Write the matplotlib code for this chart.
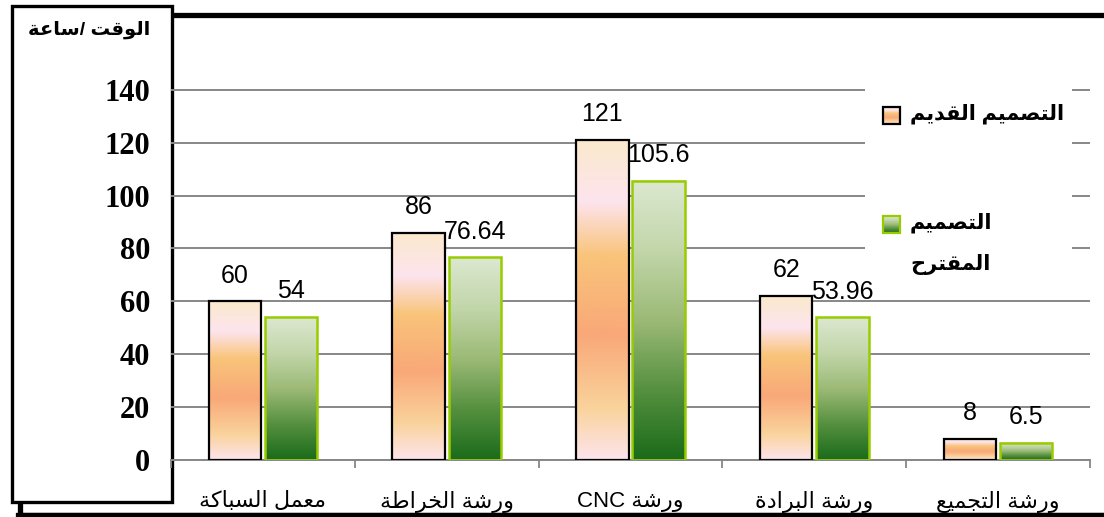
import numpy as np
import matplotlib
matplotlib.use("Agg")
import matplotlib.pyplot as plt
from matplotlib.colors import LinearSegmentedColormap
from matplotlib.patches import Rectangle
from matplotlib.lines import Line2D

# data
categories = ["معمل السباكة", "ورشة الخراطة", "ورشة CNC", "ورشة البرادة", "ورشة التجميع"]
old_design = [60, 86, 121, 62, 8]
new_design = [54, 76.64, 105.6, 53.96, 6.5]
old_labels = ["60", "86", "121", "62", "8"]
new_labels = ["54", "76.64", "105.6", "53.96", "6.5"]
series_names = ["التصميم القديم", "التصميم\nالمقترح"]
y_title = "الوقت /ساعة"
y_ticks = [0, 20, 40, 60, 80, 100, 120, 140]

# minimal Arabic shaping: (isolated, final, initial, medial)
FORMS = {
    'ا': (0xFE8D, 0xFE8E, None, None),
    'ب': (0xFE8F, 0xFE90, 0xFE91, 0xFE92),
    'ة': (0xFE93, 0xFE94, None, None),
    'ت': (0xFE95, 0xFE96, 0xFE97, 0xFE98),
    'ج': (0xFE9D, 0xFE9E, 0xFE9F, 0xFEA0),
    'ح': (0xFEA1, 0xFEA2, 0xFEA3, 0xFEA4),
    'خ': (0xFEA5, 0xFEA6, 0xFEA7, 0xFEA8),
    'د': (0xFEA9, 0xFEAA, None, None),
    'ر': (0xFEAD, 0xFEAE, None, None),
    'س': (0xFEB1, 0xFEB2, 0xFEB3, 0xFEB4),
    'ش': (0xFEB5, 0xFEB6, 0xFEB7, 0xFEB8),
    'ص': (0xFEB9, 0xFEBA, 0xFEBB, 0xFEBC),
    'ط': (0xFEC1, 0xFEC2, 0xFEC3, 0xFEC4),
    'ع': (0xFEC9, 0xFECA, 0xFECB, 0xFECC),
    'ق': (0xFED5, 0xFED6, 0xFED7, 0xFED8),
    'ك': (0xFED9, 0xFEDA, 0xFEDB, 0xFEDC),
    'ل': (0xFEDD, 0xFEDE, 0xFEDF, 0xFEE0),
    'م': (0xFEE1, 0xFEE2, 0xFEE3, 0xFEE4),
    'و': (0xFEED, 0xFEEE, None, None),
    'ي': (0xFEF1, 0xFEF2, 0xFEF3, 0xFEF4),
}


def shape(word):
    out = []
    for i, ch in enumerate(word):
        f = FORMS.get(ch)
        if f is None:
            out.append(ch)
            continue
        prev = FORMS.get(word[i - 1]) if i > 0 else None
        nxt = FORMS.get(word[i + 1]) if i + 1 < len(word) else None
        jp = prev is not None and prev[2] is not None
        jn = nxt is not None and f[2] is not None
        if jp and jn:
            out.append(chr(f[3]))
        elif jp:
            out.append(chr(f[1]))
        elif jn:
            out.append(chr(f[2]))
        else:
            out.append(chr(f[0]))
    return ''.join(out)


def ar(text):
    lines = []
    for line in text.split("\n"):
        toks = []
        for tok in line.split(" ")[::-1]:
            if any(c in FORMS for c in tok):
                toks.append(shape(tok)[::-1])
            else:
                toks.append(tok)
        lines.append(" ".join(toks))
    return "\n".join(lines)


plt.rcParams['font.family'] = ['Liberation Sans', 'DejaVu Sans']

orange_cmap = LinearSegmentedColormap.from_list("old", [
    (0.0, "#fde4ec"), (0.16, "#fad39c"), (0.39, "#f9a878"),
    (0.64, "#f9c47a"), (0.81, "#fde4ee"), (1.0, "#fbe9cc")])
green_cmap = LinearSegmentedColormap.from_list("new", [
    (0.0, "#1a6b1a"), (0.25, "#55903f"), (0.5, "#9cba76"),
    (0.75, "#c2d6aa"), (1.0, "#dce8d0")])
grid_color = "#878787"

W, H = 1104, 517
fig = plt.figure(figsize=(W / 100, H / 100), dpi=100)
ax = fig.add_axes([171 / W, 57 / H, 919 / W, 423 / H])
ax.set_zorder(2)
ax.patch.set_visible(False)

x = np.arange(len(categories))
width = 0.285
off = 0.153
grad = np.linspace(0, 1, 256).reshape(-1, 1)

bars_old = ax.bar(x - off, old_design, width, facecolor="none", edgecolor="black",
                  linewidth=1.6, zorder=3)
bars_new = ax.bar(x + off, new_design, width, facecolor="none", edgecolor="#99cc00",
                  linewidth=1.8, zorder=3)

for bars, cmap in [(bars_old, orange_cmap), (bars_new, green_cmap)]:
    for b in bars:
        x0, y0 = b.get_x(), b.get_y()
        ax.imshow(grad, cmap=cmap, origin="lower", aspect="auto", interpolation="bicubic",
                  extent=[x0, x0 + b.get_width(), y0, y0 + b.get_height()], zorder=2)

for bars, labels in [(bars_old, old_labels), (bars_new, new_labels)]:
    for b, lab in zip(bars, labels):
        ax.annotate(lab, (b.get_x() + b.get_width() / 2, b.get_height()),
                    xytext=(0, 13.5), textcoords="offset points", ha="center",
                    va="baseline", fontsize=18, zorder=4)

ax.set_xlim(-0.5, len(categories) - 0.5)
ax.set_ylim(0, 160)
ax.set_yticks(y_ticks)
ax.set_yticklabels([str(v) for v in y_ticks], fontfamily="Liberation Serif",
                   fontweight="bold", fontsize=22)
ax.tick_params(axis="y", length=0, pad=15)
ax.grid(axis="y", color=grid_color, linewidth=1.4, zorder=1)
ax.set_axisbelow(True)

ax.set_xticks(x)
ax.set_xticklabels([ar(c) for c in categories], fontsize=16)
ax.set_xticks(np.arange(len(categories) + 1) - 0.5, minor=True)
ax.tick_params(axis="x", which="major", length=0, pad=22)
ax.tick_params(axis="x", which="minor", length=6, width=1.3, color=grid_color)
for s in ["top", "left", "right"]:
    ax.spines[s].set_visible(False)
ax.spines["bottom"].set_color(grid_color)
ax.spines["bottom"].set_linewidth(1.4)

# legend block
ax.add_patch(Rectangle((0.755, 0.43), 0.225, 0.47, transform=ax.transAxes,
                       facecolor="white", edgecolor="none", zorder=1.5))
legend_rows = [(orange_cmap, "black", 0.815, [0.818]),
               (green_cmap, "#99cc00", 0.556, [0.560, 0.462])]
for (cmap, ec, sy, ty), name in zip(legend_rows, series_names):
    sx0, sw, sh = 712 / 919, 17 / 919, 17 / 423
    ax.imshow(grad, cmap=cmap, origin="lower", aspect="auto", transform=ax.transAxes,
              extent=[sx0, sx0 + sw, sy - sh / 2, sy + sh / 2], zorder=3)
    ax.add_patch(Rectangle((sx0, sy - sh / 2), sw, sh, transform=ax.transAxes,
                           facecolor="none", edgecolor=ec, linewidth=1.6, zorder=3.5))
    for line, yy in zip(name.split("\n"), ty):
        ax.text(739 / 919, yy, ar(line), transform=ax.transAxes, ha="left", va="center",
                fontsize=15, fontweight="bold", zorder=4)

# outer frame and the y-title box
fig.add_artist(Rectangle((20 / W, 1 - 515 / H), 1.2, (515 - 14.5) / H,
                         transform=fig.transFigure, facecolor="none",
                         edgecolor="black", linewidth=3.8, zorder=1))
fig.add_artist(Rectangle((11.5 / W, 1 - 502 / H), 160 / W, 496 / H,
                         transform=fig.transFigure, facecolor="white",
                         edgecolor="black", linewidth=2.4, zorder=1.5))
fig.add_artist(Line2D([18 / W, 1.0], [1 - 515 / H, 1 - 515 / H], transform=fig.transFigure,
                      color="black", linewidth=3.8, zorder=5))
fig.text(150 / W, 1 - 30 / H, ar(y_title), ha="right", va="center", fontsize=14,
         fontweight="bold", zorder=3)

fig.savefig("out.png", dpi=100)
